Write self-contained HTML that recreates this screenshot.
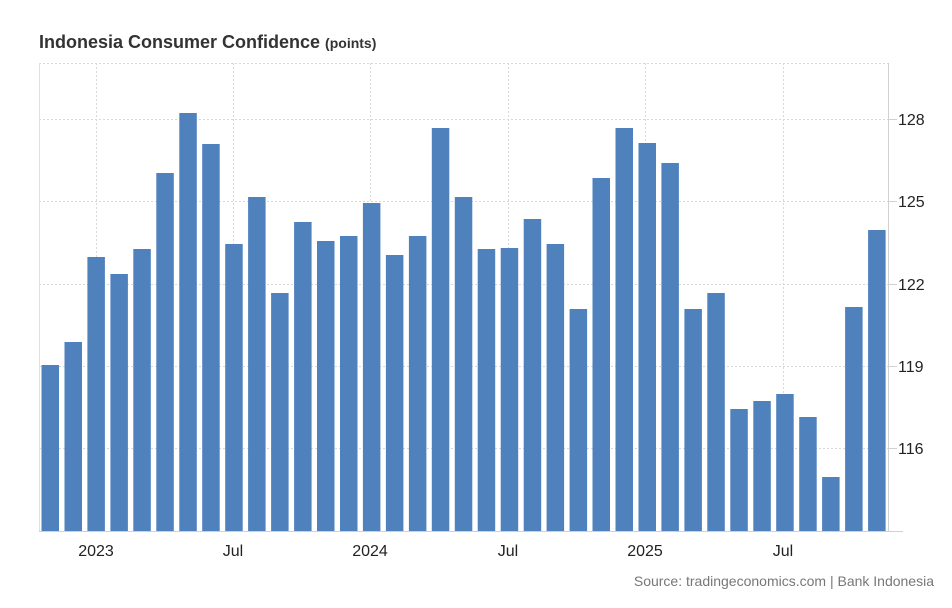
<!DOCTYPE html>
<html><head><meta charset="utf-8"><style>
html,body{margin:0;padding:0;background:#fff;}
svg{display:block;font-family:"Liberation Sans",Arial,sans-serif;}
</style></head><body>
<svg width="952" height="608" viewBox="0 0 952 608" xmlns="http://www.w3.org/2000/svg">
<text x="39" y="48" font-size="18" font-weight="bold" fill="#333">Indonesia Consumer Confidence <tspan font-size="14">(points)</tspan></text>
<g stroke="#d8d8d8" stroke-width="1" stroke-dasharray="2,2">
<line x1="39" y1="63.5" x2="888" y2="63.5"/>
<line x1="39" y1="119.5" x2="888" y2="119.5"/>
<line x1="39" y1="201.5" x2="888" y2="201.5"/>
<line x1="39" y1="284.5" x2="888" y2="284.5"/>
<line x1="39" y1="366.5" x2="888" y2="366.5"/>
<line x1="39" y1="448.5" x2="888" y2="448.5"/>
<line x1="96.5" y1="63" x2="96.5" y2="531"/>
<line x1="233.5" y1="63" x2="233.5" y2="531"/>
<line x1="370.5" y1="63" x2="370.5" y2="531"/>
<line x1="508.5" y1="63" x2="508.5" y2="531"/>
<line x1="645.5" y1="63" x2="645.5" y2="531"/>
<line x1="783.5" y1="63" x2="783.5" y2="531"/>
</g>
<line x1="39.5" y1="63" x2="39.5" y2="531" stroke="#e0e0e0"/>
<g stroke="#d0d0d0">
<line x1="888.5" y1="63" x2="888.5" y2="531"/>
<line x1="39" y1="531.5" x2="903" y2="531.5"/>
<line x1="888" y1="119.5" x2="897" y2="119.5"/>
<line x1="888" y1="201.5" x2="897" y2="201.5"/>
<line x1="888" y1="284.5" x2="897" y2="284.5"/>
<line x1="888" y1="366.5" x2="897" y2="366.5"/>
<line x1="888" y1="448.5" x2="897" y2="448.5"/>
</g>
<g fill="#4f81bd">
<rect x="41.5" y="365" width="17.5" height="166"/>
<rect x="64.5" y="342" width="17.5" height="189"/>
<rect x="87.4" y="257" width="17.5" height="274"/>
<rect x="110.4" y="274" width="17.5" height="257"/>
<rect x="133.3" y="249" width="17.5" height="282"/>
<rect x="156.3" y="173" width="17.5" height="358"/>
<rect x="179.3" y="113" width="17.5" height="418"/>
<rect x="202.2" y="144" width="17.5" height="387"/>
<rect x="225.2" y="244" width="17.5" height="287"/>
<rect x="248.1" y="197" width="17.5" height="334"/>
<rect x="271.1" y="293" width="17.5" height="238"/>
<rect x="294.1" y="222" width="17.5" height="309"/>
<rect x="317.0" y="241" width="17.5" height="290"/>
<rect x="340.0" y="236" width="17.5" height="295"/>
<rect x="362.9" y="203" width="17.5" height="328"/>
<rect x="385.9" y="255" width="17.5" height="276"/>
<rect x="408.9" y="236" width="17.5" height="295"/>
<rect x="431.8" y="128" width="17.5" height="403"/>
<rect x="454.8" y="197" width="17.5" height="334"/>
<rect x="477.7" y="249" width="17.5" height="282"/>
<rect x="500.7" y="248" width="17.5" height="283"/>
<rect x="523.7" y="219" width="17.5" height="312"/>
<rect x="546.6" y="244" width="17.5" height="287"/>
<rect x="569.6" y="309" width="17.5" height="222"/>
<rect x="592.5" y="178" width="17.5" height="353"/>
<rect x="615.5" y="128" width="17.5" height="403"/>
<rect x="638.5" y="143" width="17.5" height="388"/>
<rect x="661.4" y="163" width="17.5" height="368"/>
<rect x="684.4" y="309" width="17.5" height="222"/>
<rect x="707.3" y="293" width="17.5" height="238"/>
<rect x="730.3" y="409" width="17.5" height="122"/>
<rect x="753.3" y="401" width="17.5" height="130"/>
<rect x="776.2" y="394" width="17.5" height="137"/>
<rect x="799.2" y="417" width="17.5" height="114"/>
<rect x="822.1" y="477" width="17.5" height="54"/>
<rect x="845.1" y="307" width="17.5" height="224"/>
<rect x="868.1" y="230" width="17.5" height="301"/>
</g>
<g font-size="16" fill="#222">
<text x="898" y="125">128</text>
<text x="898" y="207">125</text>
<text x="898" y="290">122</text>
<text x="898" y="372">119</text>
<text x="898" y="454">116</text>
<text x="96" y="556" text-anchor="middle">2023</text>
<text x="233" y="556" text-anchor="middle">Jul</text>
<text x="370" y="556" text-anchor="middle">2024</text>
<text x="508" y="556" text-anchor="middle">Jul</text>
<text x="645" y="556" text-anchor="middle">2025</text>
<text x="783" y="556" text-anchor="middle">Jul</text>
</g>
<text x="934" y="586" font-size="14" fill="#777" text-anchor="end">Source: tradingeconomics.com | Bank Indonesia</text>
</svg>
</body></html>
